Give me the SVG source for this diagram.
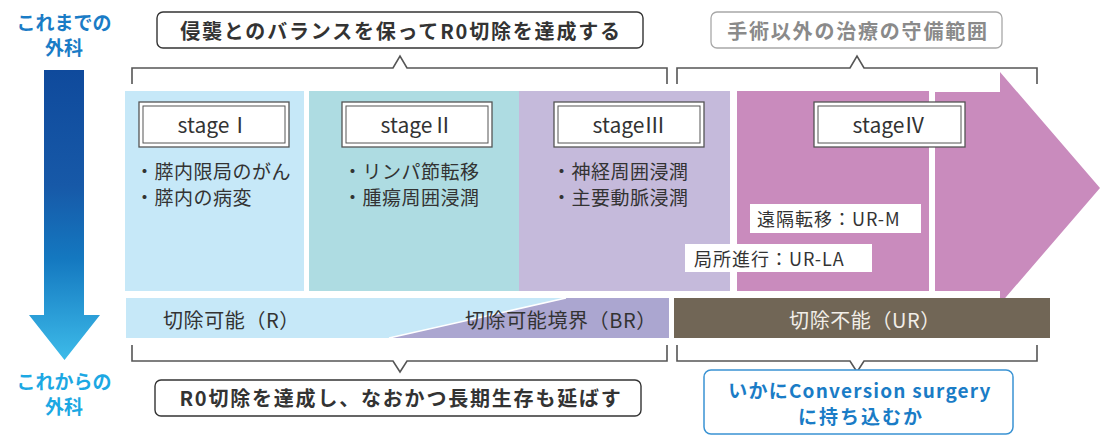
<svg xmlns="http://www.w3.org/2000/svg" width="1100" height="435" viewBox="0 0 1100 435">
<defs>
<linearGradient id="gArrow" x1="0" y1="70" x2="0" y2="360" gradientUnits="userSpaceOnUse">
<stop offset="0" stop-color="#0f4a9c"/>
<stop offset="0.4" stop-color="#1759a8"/>
<stop offset="0.65" stop-color="#1478c0"/>
<stop offset="1" stop-color="#3dbbe9"/>
</linearGradient>
</defs>
<style>
text{font-family:"Noto Sans CJK JP","Noto Sans",sans-serif;}
.lab{font-size:19px;fill:#333;letter-spacing:0.5px;}
.bar{font-size:20px;fill:#333;letter-spacing:0.6px;}
.stg{font-size:21px;fill:#333;text-anchor:middle;}
.box{fill:#fff;stroke:#555;stroke-width:1.3;}
.boxi{fill:none;stroke:#555;stroke-width:1;}
.brk{fill:none;stroke:#555;stroke-width:1.6;stroke-linejoin:miter;}
.bub{fill:#fff;stroke:#333;stroke-width:1.4;}
.bt{font-size:20px;font-weight:bold;fill:#333;text-anchor:middle;letter-spacing:1.8px;}
.tag{fill:#fff;}
.tt{font-size:18px;fill:#333;letter-spacing:1px;}
</style>

<g id="side-labels">
<text x="64" y="30" text-anchor="middle" style="font-size:19px;font-weight:bold;fill:#1a7cc6">これまでの</text>
<text x="64" y="55" text-anchor="middle" style="font-size:19px;font-weight:bold;fill:#1a7cc6">外科</text>
<path d="M44,70 H84 V315 H100 L64.5,360 L29,315 H44 Z" fill="url(#gArrow)"/>
<text x="64" y="389" text-anchor="middle" style="font-size:19px;font-weight:bold;fill:#1ca8e3">これからの</text>
<text x="64" y="414" text-anchor="middle" style="font-size:19px;font-weight:bold;fill:#1ca8e3">外科</text>
</g>

<g id="stage1">
<rect x="125" y="91" width="179" height="200" fill="#c6e8f8"/>
<rect class="box" x="139" y="102" width="150" height="45"/>
<rect class="boxi" x="143" y="106" width="142" height="37"/>
<text class="stg" x="214" y="133">stageⅠ</text>
<text class="lab" x="135" y="179">・膵内限局のがん</text>
<text class="lab" x="135" y="205">・膵内の病変</text>
</g>

<g id="stage2">
<rect x="309" y="91" width="210" height="200" fill="#aedce2"/>
<rect class="box" x="342" y="102" width="150" height="45"/>
<rect class="boxi" x="346" y="106" width="142" height="37"/>
<text class="stg" x="417" y="133">stageⅡ</text>
<text class="lab" x="343" y="179">・リンパ節転移</text>
<text class="lab" x="343" y="205">・腫瘍周囲浸潤</text>
</g>

<g id="stage3">
<rect x="519" y="91" width="211" height="200" fill="#c5badb"/>
<rect class="box" x="554" y="102" width="150" height="45"/>
<rect class="boxi" x="558" y="106" width="142" height="37"/>
<text class="stg" x="629" y="133">stageⅢ</text>
<text class="lab" x="552" y="179">・神経周囲浸潤</text>
<text class="lab" x="552" y="205">・主要動脈浸潤</text>
</g>

<g id="stage4">
<rect x="737" y="91" width="192" height="200" fill="#c98bbd"/>
<path d="M935,92 H1000 V72 L1100,188 L1000,304 V291 H935 Z" fill="#c98bbd"/>
<rect class="box" x="814" y="102" width="151" height="45"/>
<rect class="boxi" x="818" y="106" width="143" height="37"/>
<text class="stg" x="889" y="133">stageⅣ</text>
<rect class="tag" x="750" y="204" width="171" height="29"/>
<text class="tt" x="757" y="226">遠隔転移：UR-M</text>
<rect class="tag" x="685" y="244" width="187" height="28"/>
<text class="tt" x="694" y="266">局所進行：UR-LA</text>
</g>

<g id="resectable">
<rect x="126" y="298" width="543" height="40" fill="#c6e8f8"/>
<path d="M389,338 L566,298 H669 V338 Z" fill="#aba6d0"/>
<path d="M389,338 L566,298" stroke="#fff" stroke-width="1.5"/>
<text class="bar" x="163" y="328">切除可能（R）</text>
<text class="bar" x="465" y="328">切除可能境界（BR）</text>
</g>

<g id="unresectable">
<rect x="674" y="298" width="376" height="40" fill="#716656"/>
<text class="bar" x="865" y="328" text-anchor="middle" style="fill:#f2eee8">切除不能（UR）</text>
</g>

<g id="connectors">
<path class="brk" d="M132,84 V68 H393 L400,56 L407,68 H667 V84"/>
<path class="brk" d="M677,84 V68 H850 L857,56 L864,68 H1037 V84"/>
<path class="brk" d="M132,345 V361 H393 L400,372 L407,361 H667 V345"/>
<path class="brk" d="M677,345 V361 H850 L857,372 L864,361 H1037 V345"/>
</g>

<g id="goal-top">
<rect class="bub" x="157" y="12" width="486" height="36" rx="6"/>
<text class="bt" x="401" y="39">侵襲とのバランスを保ってR0切除を達成する</text>
</g>

<g id="goal-top-right">
<rect x="711" y="12" width="291" height="36" rx="6" fill="#fff" stroke="#a8a8a8" stroke-width="1.3"/>
<text class="bt" x="858" y="39" style="fill:#8a8a8a">手術以外の治療の守備範囲</text>
</g>

<g id="goal-bottom">
<rect class="bub" x="155" y="380" width="486" height="36" rx="6"/>
<text class="bt" x="401" y="406">R0切除を達成し、なおかつ長期生存も延ばす</text>
</g>

<g id="goal-bottom-right">
<rect x="704" y="370" width="309" height="64" rx="7" fill="#fff" stroke="#3a93d3" stroke-width="1.5"/>
<text x="860" y="398" text-anchor="middle" style="font-size:19px;font-weight:bold;fill:#1a7cc6;letter-spacing:1.2px">いかにConversion surgery</text>
<text x="861" y="424" text-anchor="middle" style="font-size:19px;font-weight:bold;fill:#1a7cc6;letter-spacing:2px">に持ち込むか</text>
</g>
</svg>
